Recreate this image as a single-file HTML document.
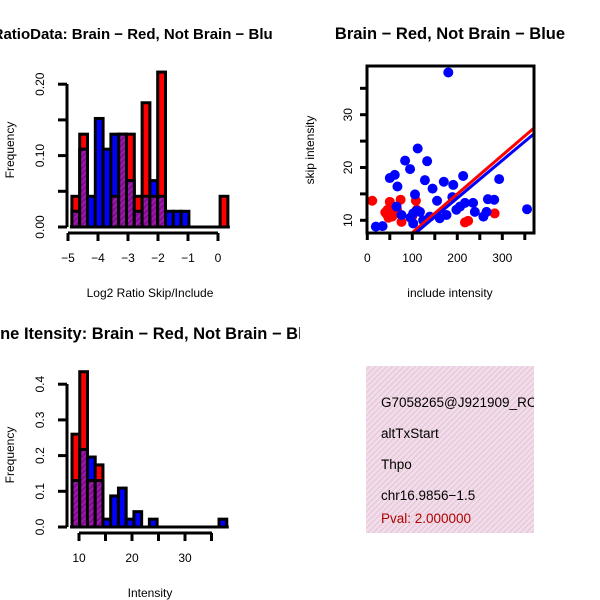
<!DOCTYPE html>
<html><head><meta charset="utf-8"><style>
body{margin:0;background:#fff}
svg{display:block;font-family:"Liberation Sans",sans-serif}
</style></head><body>
<svg id="c" width="600" height="600" xmlns="http://www.w3.org/2000/svg">
<defs>
<clipPath id="clipT1"><rect x="0" y="0" width="273" height="60"/></clipPath>
<clipPath id="clipT3"><rect x="0" y="300" width="300" height="60"/></clipPath>
<clipPath id="clipS"><rect x="367" y="66" width="167" height="167"/></clipPath>
<clipPath id="clipBox"><rect x="366" y="366" width="168" height="167"/></clipPath>
<pattern id="hatchP" width="4" height="4" patternUnits="userSpaceOnUse" patternTransform="rotate(45)">
<rect width="4" height="4" fill="#9a1aa8"/><rect width="1.6" height="4" fill="#7a0a8a"/></pattern>
<pattern id="pinkP" width="4" height="4" patternUnits="userSpaceOnUse" patternTransform="rotate(45)">
<rect width="4" height="4" fill="#f8d8f2"/><rect width="1.3" height="4" fill="#d9d2c8"/></pattern>
</defs>
<g id="g1"></g>
<g id="g2"></g>
<g id="g3"></g>
<g id="g4">
<rect x="366" y="366" width="168" height="167" fill="url(#pinkP)"/>
<g clip-path="url(#clipBox)" font-size="13.5">
<text x="381" y="407">G7058265@J921909_RC</text>
<text x="381" y="438">altTxStart</text>
<text x="381" y="469">Thpo</text>
<text x="381" y="500">chr16.9856−1.5</text>
<text x="381" y="523" fill="#b00000">Pval: 2.000000</text>
</g></g>
</svg>
<script>
// ---- data: ratio histogram ----
const ratioRed  = [0.043,0.13,0,0,0,0.043,0.13,0.13,0.043,0.174,0.043,0.217,0,0,0,0,0,0,0,0.043];
const ratioBlue = [0.022,0.109,0.043,0.152,0.109,0.13,0.13,0.065,0.022,0.043,0.065,0.043,0.022,0.022,0.022,0,0,0,0,0];
const ratioStart = -4.87, ratioBinW = 0.26;
const ratioXTicks = [-5,-4,-3,-2,-1,0];
const ratioYTicks = ["0.00","0.05","0.10","0.15","0.20"];
// ---- data: intensity histogram ----
const intRed  = [0.26,0.435,0.13,0.174,0,0,0,0,0,0,0,0,0,0,0,0,0,0,0,0];
const intBlue = [0.13,0.217,0.196,0.13,0.022,0.087,0.109,0.022,0.043,0,0.022,0,0,0,0,0,0,0,0,0.022];
const intStart = 8.68, intBinW = 1.46;
const intXTicks = [10,15,20,25,30,35];
const intXLabels = [10,20,30];
const intYTicks = ["0.0","0.1","0.2","0.3","0.4"];
// ---- data: scatter ----
const redX = [11,50,74,108,43,58,50,40,47,62,66,55,76,110,217,224,283,100,45];
const redY = [13.7,13.5,13.9,13.7,11.2,11,11.8,11.5,10.5,11.5,12,10.7,9.7,12,9.6,9.9,11.3,10.8,12];
const blueX = [180,112,84,133,95,50,61,67,128,145,170,191,213,293,106,155,189,65,76,102,117,124,102,139,176,198,217,235,239,258,265,268,282,355,19,34,206,161,110,96];
const blueY = [38,23.6,21.3,21.2,19.7,18,18.6,16.4,17.6,16,17.3,16.7,18.4,17.8,14.9,13.7,14.4,12.6,11,11.3,11.6,10,9.4,10.7,11,12,13.3,13.3,11.6,10.7,11.6,14,13.9,12.1,8.8,8.9,12.6,10.4,11.8,10.5];
const redFit = [0.32, 0.0733];   // intercept, slope
const blueFit = [-0.07, 0.0714];
const scXTicks = [0,50,100,150,200,250,300,350];
const scXLabels = [0,100,200,300];
const scYTicks = [10,15,20,25,30,35];
const scYLabels = [10,20,30];

const NS="http://www.w3.org/2000/svg";
function mk(parent,tag,attrs,txt){const e=document.createElementNS(NS,tag);for(const k in attrs)e.setAttribute(k,attrs[k]);if(txt!==undefined)e.textContent=txt;parent.appendChild(e);return e;}

function hist(g,red,blue,start,bw,xs,ys,yBase,prefix){
  for(let i=0;i<red.length;i++){
    const x0=xs(start+i*bw), x1=xs(start+(i+1)*bw);
    const r=red[i], b=blue[i];
    const hi=Math.max(r,b), lo=Math.min(r,b);
    if(hi>0){
      const e=mk(g,'rect',{x:x0,y:ys(hi),width:x1-x0,height:yBase-ys(hi),fill:r>=b?'#ff0000':'#0000ff',stroke:'#000','stroke-width':3});
      
      
    }
    if(lo>0){
      const e=mk(g,'rect',{x:x0,y:ys(lo),width:x1-x0,height:yBase-ys(lo),fill:'url(#hatchP)',stroke:'#000','stroke-width':3});
      
      
    }
  }
  const e=mk(g,'line',{x1:xs(start)-2,x2:xs(start+red.length*bw)+2,y1:yBase,y2:yBase,stroke:'#000','stroke-width':3});
  
  
}
function txt(g,x,y,s,opts,name){
  const e=mk(g,'text',Object.assign({x:x,y:y,'text-anchor':'middle','font-size':12},opts||{}),s);
  
  
  return e;
}

// ---------- panel 1 ----------
(function(){
  const g=document.getElementById('g1');
  const xs=v=>68+(v+5)*30, ys=v=>227-v*714;
  hist(g,ratioRed,ratioBlue,ratioStart,ratioBinW,xs,ys,227,'ratio');
  const ax=mk(g,'path',{d:'M68 233H218',stroke:'#000','stroke-width':3,fill:'none'});
  
  
  ratioXTicks.forEach(t=>{mk(g,'line',{x1:xs(t),x2:xs(t),y1:233,y2:241,stroke:'#000','stroke-width':3});txt(g,xs(t),262,t===0?'0':'−'+Math.abs(t),{},'ratio-x-tick-label');});
  const ay=mk(g,'path',{d:'M67 84V227',stroke:'#000','stroke-width':3,fill:'none'});
  
  
  ratioYTicks.forEach(t=>{const y=ys(parseFloat(t));mk(g,'line',{x1:58,x2:67,y1:y,y2:y,stroke:'#000','stroke-width':3});
    if(['0.00','0.10','0.20'].includes(t))txt(g,44,y,t,{transform:`rotate(-90 44 ${y})`},'ratio-y-tick-label');});
  txt(g,150,297,'Log2 Ratio Skip/Include',{},'ratio-x-axis-title');
  txt(g,14,150,'Frequency',{transform:'rotate(-90 14 150)'},'ratio-y-axis-title');
  const tg=mk(g,'g',{'clip-path':'url(#clipT1)'});
  txt(tg,281,39,'Log2 RatioData: Brain − Red, Not Brain − Blue',{'font-size':15,'font-weight':'bold','text-anchor':'end'},'ratio-title');
})();

// ---------- panel 3 ----------
(function(){
  const g=document.getElementById('g3');
  const xs=v=>79+(v-10)*5.3, ys=v=>527-v*357;
  hist(g,intRed,intBlue,intStart,intBinW,xs,ys,527,'intensity');
  const ax=mk(g,'path',{d:'M79 533H212',stroke:'#000','stroke-width':3,fill:'none'});
  
  
  intXTicks.forEach(t=>mk(g,'line',{x1:xs(t),x2:xs(t),y1:533,y2:541,stroke:'#000','stroke-width':3}));
  intXLabels.forEach(t=>txt(g,xs(t),562,String(t),{},'intensity-x-tick-label'));
  const ay=mk(g,'path',{d:'M67 384V527',stroke:'#000','stroke-width':3,fill:'none'});
  
  
  intYTicks.forEach(t=>{const y=ys(parseFloat(t));mk(g,'line',{x1:58,x2:67,y1:y,y2:y,stroke:'#000','stroke-width':3});
    txt(g,44,y,t,{transform:`rotate(-90 44 ${y})`},'intensity-y-tick-label');});
  txt(g,150,597,'Intensity',{},'intensity-x-axis-title');
  txt(g,14,455,'Frequency',{transform:'rotate(-90 14 455)'},'intensity-y-axis-title');
  const tg=mk(g,'g',{'clip-path':'url(#clipT3)'});
  txt(tg,150,339,'Gene Itensity: Brain − Red, Not Brain − Blue',{'font-size':16.5,'font-weight':'bold'},'intensity-title');
})();

// ---------- panel 2 scatter ----------
(function(){
  const g=document.getElementById('g2');
  const xs=v=>367.3+v*0.45, ys=v=>220.3-(v-10)*5.28;
  const pg=mk(g,'g',{'clip-path':'url(#clipS)'});
  redX.forEach((x,i)=>{const e=mk(pg,'circle',{cx:xs(x),cy:ys(redY[i]),r:5,fill:'#ff0000'});
    
    });
  blueX.forEach((x,i)=>{const e=mk(pg,'circle',{cx:xs(x),cy:ys(blueY[i]),r:5,fill:'#0000ff'});
    
    });
  [[redFit,'#ff0000','red-fit-line'],[blueFit,'#0000ff','blue-fit-line']].forEach(([f,c,n])=>{
    const x0=0,x1=400;
    const e=mk(pg,'line',{x1:xs(x0),y1:ys(f[0]+f[1]*x0),x2:xs(x1),y2:ys(f[0]+f[1]*x1),stroke:c,'stroke-width':3});
    
    
  });
  const box=mk(g,'rect',{x:367,y:66,width:167,height:167,fill:'none',stroke:'#000','stroke-width':3});
  
  
  scXTicks.forEach(t=>mk(g,'line',{x1:xs(t),x2:xs(t),y1:233,y2:240,stroke:'#000','stroke-width':3}));
  scXLabels.forEach(t=>txt(g,xs(t),262,String(t),{},'scatter-x-tick-label'));
  scYTicks.forEach(t=>mk(g,'line',{x1:360,x2:367,y1:ys(t),y2:ys(t),stroke:'#000','stroke-width':3}));
  scYLabels.forEach(t=>txt(g,352,ys(t),String(t),{transform:`rotate(-90 352 ${ys(t)})`},'scatter-y-tick-label'));
  txt(g,450,297,'include intensity',{},'scatter-x-axis-title');
  txt(g,314,150,'skip intensity',{transform:'rotate(-90 314 150)'},'scatter-y-axis-title');
  txt(g,450,39,'Brain − Red, Not Brain − Blue',{'font-size':16.5,'font-weight':'bold'},'scatter-title');
})();
</script>
</body></html>
